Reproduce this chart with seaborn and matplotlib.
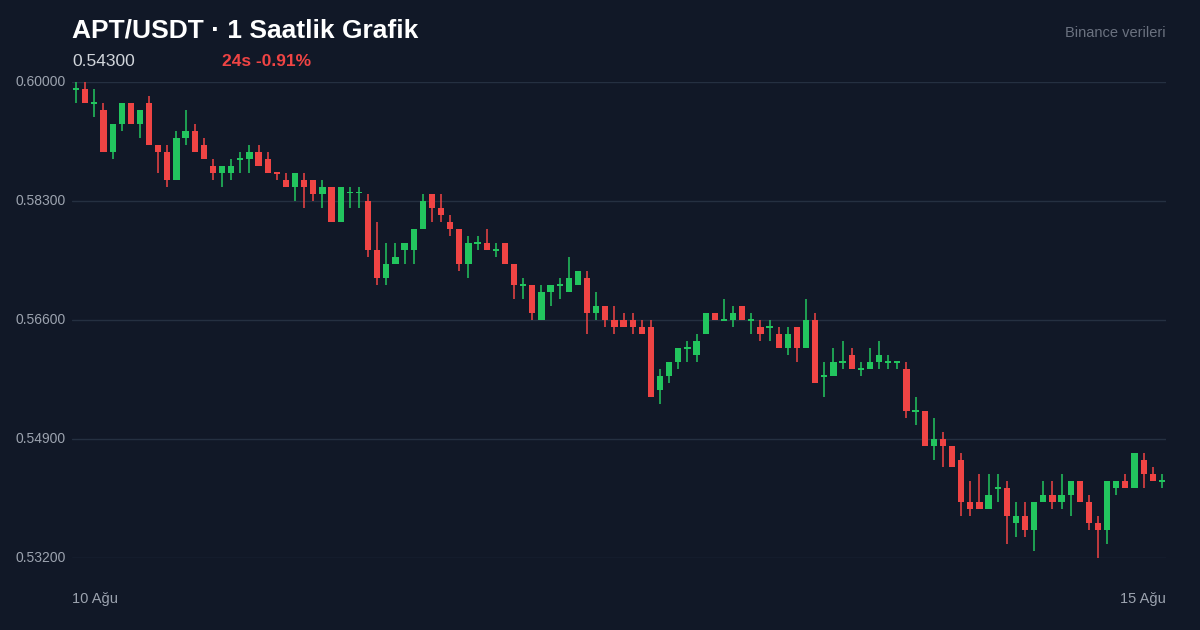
import matplotlib
matplotlib.use("Agg")
import matplotlib.pyplot as plt
import seaborn as sns
import numpy as np
import pandas as pd

opens = [0.5989,0.599,0.5969,0.596,0.590,0.594,0.597,0.594,0.597,0.591,0.590,0.586,0.592,0.593,0.591,0.588,0.587,0.587,0.5889,0.589,
         0.590,0.589,0.587,0.586,0.585,0.586,0.586,0.584,0.585,0.580,0.5841,0.5841,0.583,0.576,0.572,0.574,0.576,0.576,0.579,0.584,
         0.582,0.580,0.579,0.574,0.5769,0.577,0.5759,0.577,0.574,0.5709,0.571,0.566,0.570,0.5709,0.570,0.571,0.572,0.567,0.568,0.566,
         0.566,0.566,0.565,0.565,0.556,0.558,0.560,0.5619,0.561,0.564,0.567,0.5659,0.566,0.568,0.5659,0.565,0.5649,0.564,0.562,0.565,
         0.562,0.566,0.5579,0.558,0.5599,0.561,0.5589,0.559,0.560,0.5599,0.5599,0.559,0.5529,0.553,0.548,0.549,0.548,0.546,0.540,0.540,
         0.539,0.5419,0.542,0.537,0.538,0.536,0.540,0.541,0.540,0.541,0.543,0.540,0.537,0.536,0.542,0.543,0.542,0.546,0.544,0.5429]
highs = [0.600,0.600,0.599,0.597,0.594,0.597,0.597,0.596,0.598,0.591,0.591,0.593,0.596,0.594,0.592,0.589,0.588,0.589,0.590,0.591,
         0.591,0.590,0.587,0.587,0.587,0.587,0.586,0.586,0.585,0.585,0.585,0.585,0.584,0.580,0.577,0.577,0.577,0.579,0.584,0.584,
         0.584,0.581,0.579,0.578,0.578,0.579,0.577,0.577,0.574,0.572,0.571,0.571,0.571,0.572,0.575,0.573,0.573,0.570,0.568,0.568,
         0.567,0.567,0.566,0.566,0.559,0.560,0.562,0.563,0.564,0.567,0.567,0.569,0.568,0.568,0.567,0.566,0.566,0.565,0.565,0.565,
         0.569,0.567,0.560,0.562,0.563,0.562,0.560,0.562,0.563,0.561,0.560,0.560,0.555,0.553,0.552,0.550,0.548,0.547,0.543,0.544,
         0.544,0.544,0.543,0.540,0.540,0.540,0.543,0.543,0.544,0.543,0.543,0.541,0.538,0.543,0.543,0.544,0.547,0.547,0.545,0.544]
lows = [0.597,0.597,0.595,0.590,0.589,0.593,0.594,0.592,0.591,0.587,0.585,0.586,0.591,0.590,0.589,0.586,0.585,0.586,0.587,0.587,
        0.588,0.587,0.586,0.585,0.583,0.582,0.583,0.582,0.580,0.580,0.582,0.582,0.575,0.571,0.571,0.574,0.574,0.574,0.579,0.580,
        0.580,0.578,0.573,0.572,0.576,0.576,0.575,0.574,0.569,0.569,0.566,0.566,0.568,0.569,0.570,0.571,0.564,0.566,0.565,0.564,
        0.565,0.564,0.564,0.555,0.554,0.557,0.559,0.560,0.560,0.564,0.566,0.5659,0.565,0.566,0.564,0.563,0.563,0.562,0.561,0.560,
        0.562,0.557,0.555,0.558,0.559,0.559,0.558,0.559,0.559,0.559,0.559,0.552,0.551,0.548,0.546,0.545,0.545,0.538,0.538,0.539,
        0.539,0.540,0.534,0.535,0.535,0.533,0.540,0.539,0.539,0.538,0.540,0.536,0.532,0.534,0.541,0.542,0.542,0.542,0.543,0.542]
closes = [0.5989,0.597,0.5969,0.590,0.594,0.597,0.594,0.596,0.591,0.590,0.586,0.592,0.593,0.590,0.589,0.587,0.588,0.588,0.5889,0.590,
          0.588,0.587,0.5869,0.585,0.587,0.585,0.584,0.585,0.580,0.585,0.5841,0.5841,0.576,0.572,0.574,0.575,0.577,0.579,0.583,0.582,
          0.581,0.579,0.574,0.577,0.5769,0.576,0.5759,0.574,0.571,0.5709,0.567,0.570,0.571,0.5709,0.572,0.573,0.567,0.568,0.566,0.565,
          0.565,0.565,0.564,0.555,0.558,0.560,0.562,0.5619,0.563,0.567,0.566,0.5659,0.567,0.566,0.5659,0.564,0.5649,0.562,0.564,0.562,
          0.566,0.557,0.5579,0.560,0.5599,0.559,0.5589,0.560,0.561,0.5599,0.5599,0.553,0.5529,0.548,0.549,0.548,0.545,0.540,0.539,0.539,
          0.541,0.5419,0.538,0.538,0.536,0.540,0.541,0.540,0.541,0.543,0.540,0.537,0.536,0.543,0.543,0.542,0.547,0.544,0.543,0.5429]
y_ticks = [0.600, 0.583, 0.566, 0.549, 0.532]
x_labels = ["10 Ağu", "15 Ağu"]
title = "APT/USDT · 1 Saatlik Grafik"
last_price = "0.54300"
change = "24s -0.91%"
source = "Binance verileri"

BG = "#111827"
GREEN = "#22c55e"
RED = "#ef4444"
GRID = "#253041"
TXT = "#9ca3af"

sns.set_theme(style="dark")
plt.rcParams['font.family'] = ['Liberation Sans', 'DejaVu Sans']

df = pd.DataFrame({"o": opens, "h": highs, "l": lows, "c": closes})
df["i"] = np.arange(len(df))
df["up"] = df["c"] >= df["o"]
df["bottom"] = df[["o", "c"]].min(axis=1)
df["height"] = (df["c"] - df["o"]).abs().clip(lower=0.00022)
df["color"] = np.where(df["up"], GREEN, RED)

fig = plt.figure(figsize=(12, 6.3), dpi=100, facecolor=BG)
ax = fig.add_axes([72/1200, 1-558/630, (1166-72)/1200, (558-82)/630])
ax.set_facecolor(BG)
ax.vlines(df["i"], df["l"], df["h"], colors=df["color"], linewidth=1.1, clip_on=False, zorder=2)
ax.bar(df["i"], df["height"], bottom=df["bottom"], width=0.68, color=df["color"], linewidth=0, clip_on=False, zorder=3)
ax.set_xlim(-0.45, len(df) - 0.55)
ax.set_ylim(0.532, 0.600)
ax.set_yticks(y_ticks)
ax.yaxis.grid(True, color=GRID, linewidth=1)
ax.xaxis.grid(False)
ax.set_yticklabels([])
ax.set_xticks([])
for s in ax.spines.values():
    s.set_visible(False)
for v in y_ticks:
    fig.text(15/1200, 1 - (82 + (0.600 - v) * 7000) / 630, f"{v:.5f}", color=TXT, fontsize=10, ha="left", va="center")
fig.text(72/1200, 1-599/630, x_labels[0], color=TXT, fontsize=10.5, ha="left", va="center")
fig.text(1166/1200, 1-599/630, x_labels[1], color=TXT, fontsize=10.5, ha="right", va="center")
fig.text(72/1200, 1-30/630, title, color="white", fontsize=19, fontweight="bold", ha="left", va="center")
fig.text(72/1200, 1-61/630, last_price, color="#d1d5db", fontsize=12.5, ha="left", va="center")
fig.text(222/1200, 1-61/630, change, color=RED, fontsize=12.5, fontweight="bold", ha="left", va="center")
fig.text(1166/1200, 1-33/630, source, color="#6b7280", fontsize=10.5, ha="right", va="center")
fig.savefig("out.png", dpi=100, facecolor=BG)
